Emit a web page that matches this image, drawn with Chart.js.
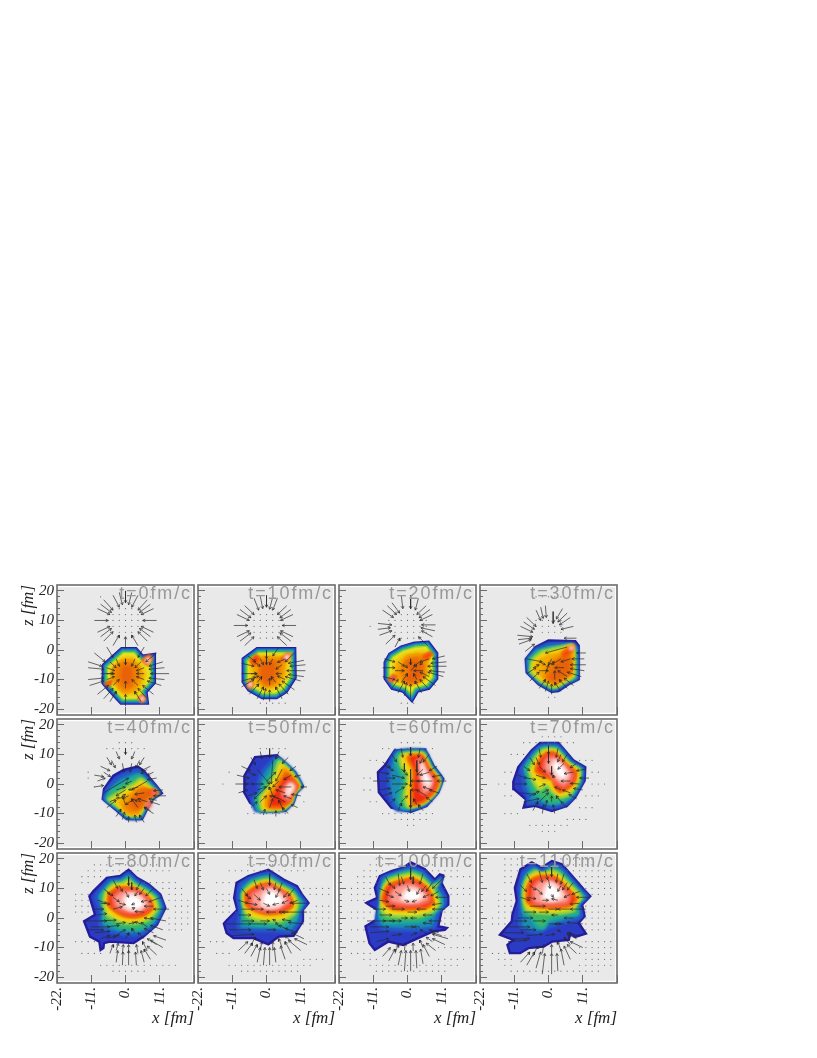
<!DOCTYPE html>
<html>
<head>
<meta charset="utf-8">
<title>Density and velocity maps</title>
<script src="https://cdn.jsdelivr.net/npm/chart.js@4"></script>
<style>
  html, body { margin: 0; padding: 0; background: #fff; }
  #page { position: relative; width: 817px; height: 1058px; overflow: hidden; }
  canvas { position: absolute; }
</style>
</head>
<body>
<div id="page"></div>
<script>
// panel titles
const titles = ['t=0fm/c', 't=10fm/c', 't=20fm/c', 't=30fm/c', 't=40fm/c', 't=50fm/c',
  't=60fm/c', 't=70fm/c', 't=80fm/c', 't=90fm/c', 't=100fm/c', 't=110fm/c'];

// axis ticks
const xTicks = [-22, -11, 0, 11];
const zTicks = [-20, -10, 0, 10, 20];

// velocity grid (fm)
const gridX = [-20, -18, -16, -14, -12, -10, -8, -6, -4, -2, 0, 2, 4, 6, 8, 10, 12, 14, 16, 18, 20];
const gridZ = [-20, -18, -16, -14, -12, -10, -8, -6, -4, -2, 0, 2, 4, 6, 8, 10, 12, 14, 16, 18, 20];

// contour levels, lowest first: [level, x,z, x,z, ...] in fm
const contourT0 = [
  ['rim', -.5,-1.5, 2.5,-1.5, 4.8,-4.2, 7.4,-3.8, 7.4,-10.3, 4.6,-13.5, 4.9,-16, -.6,-16, -4.5,-11.5, -5.3,-10.5, -5.2,-6],
  ['amber', -.5,-2.5, 2.5,-2.5, 5,-5, 6.5,-8, 5.5,-12, 3,-15, -1,-15, -4,-11, -4.5,-6],
  ['orange', -1,-3.5, 2,-3.5, 4.5,-6, 4.8,-9, 3,-13, 0,-14.5, -2,-13, -3.8,-10, -3.8,-6],
  ['deep', 0,-5, 2,-5.5, 2.5,-9, 1.5,-12, -.5,-12, -1.8,-9, -1.2,-6],
  ['red', 5.5,-3.5, 7.5,-1.8, 8.5,-3, 7,-5],
  ['white', 6.5,-3.6, 7.5,-2.8, 7.8,-3.2, 7,-4.3],
  ['red', 4.2,-16.5, 5.4,-15.3, 6.3,-16.5, 5.3,-17.6],
  ['white', 4.9,-16.5, 5.4,-16, 5.8,-16.5, 5.3,-17],
  ['red', -6.5,-11.6, -4.5,-10.2, -5,-12]
];
const contourT10 = [
  ['rim', -2.4,-1.5, 7.2,-1.5, 7.3,-8.8, 5,-12.6, 2.7,-14.1, -.9,-14.1, -4.4,-12, -5.6,-10.2, -5.6,-4],
  ['amber', -2,-2, 6.5,-2, 6.5,-8.5, 4.5,-12, 2,-13.3, -1,-13.3, -4,-11, -5,-8, -5,-4],
  ['orange', -1,-2.5, 5.5,-3, 5,-8, 3,-11.5, 0,-12.5, -3,-10, -3,-5],
  ['deep', -1,-4, 3,-4, 3,-8, 2,-11, -.5,-11.5, -2,-9, -2,-5.5],
  ['red', 4.7,-3.2, 6.8,-1.2, 7.8,-1.6, 6.6,-3.6],
  ['white', 5.9,-2.7, 6.8,-1.8, 7.2,-2, 6.4,-3],
  ['red', -5.2,-3.6, -3.3,-1.8, -2.2,-3, -3.8,-5.2],
  ['red', -6,-12, -5.5,-10.4, -4.2,-11.5, -5.3,-12.9],
  ['white', -5.6,-11.8, -5.3,-11, -4.8,-11.5, -5.2,-12.2]
];
const contourT20 = [
  ['rim', -1.2,-.8, 2.8,.4, 5.8,.6, 7.5,-1.8, 7.5,-9, 5.8,-11.2, 2,-12.2, 1.1,-13.8, -.3,-12.2, -3.8,-11.2, -5.3,-9, -5.3,-4.7, -4.3,-2.8],
  ['amber', -1,-1.5, 3,-.5, 5.5,-.5, 7,-3, 6.5,-9, 5,-10.7, 2,-11.7, -3,-11, -4.5,-8, -4,-4],
  ['orange', 0,-2, 3,-1.5, 6,-2, 5.8,-8, 4,-10.5, 1,-11.5, -2,-10, -3,-7, -1,-4],
  ['deep', -.8,-4, 3,-3, 4.5,-4, 5,-8, 3.5,-10.5, .5,-11.3, -1,-10, .5,-7],
  ['red', 5,-2.3, 7,-.8, 8,-1.4, 6,-3.2],
  ['red', -6,-10, -4.5,-8.5, -3.5,-9.3, -5,-10.7],
  ['pink', -5.4,-10, -4.6,-9.2, -4.1,-9.5, -5,-10.3]
];
const contourT30 = [
  ['dark', -4.3,.9, 0,3.2, 8.6,3, 9.7,1.5, 9.7,-9.9, 6.5,-11.6, 3.2,-13.9, 1,-14.1, -3.2,-11.6, -7,-7.6, -7.3,-3.1],
  ['teal', -6.8,-3.2, -4,.3, 0,2, 8,2, 9.2,.8, 9.2,-9.6, 6.2,-11, 3,-13.2, 1,-13.5, -3,-11, -6.5,-7.4],
  ['green', -6.3,-3.2, -3.5,-.3, 1,1, 7.5,1.8, 8.8,.5, 8.8,-9.4, 6,-10.6, 2.8,-12.8, 1,-13, -2.8,-10.6, -6,-7.3],
  ['yellow', -5,-3, -2,-.5, 4,1, 7.5,1.8, 8.2,0, 8.2,-9, 6,-10.5, 2.5,-12.5, 1,-12.6, -2.8,-10.3, -5.8,-7.2],
  ['amber', -5,-5, -3,-2.5, 0,-1, 3,-.5, 6,1, 7.8,1.5, 7.8,-8.5, 5.5,-10, 2.5,-12, -2.3,-9.8, -4.5,-7.5],
  ['orange', -1,-6, 1,-3, 4,-1.5, 6,.8, 7.5,1, 7.5,-8, 5,-9.8, 2,-11.6, -1.5,-9.5],
  ['deep', 1,-7, 3,-3.5, 5,-2, 7,-3, 7,-8, 4.5,-9.6, 2,-11, -.3,-9.5],
  ['red', 4.5,-1.2, 7.6,1.2, 8.2,1.5, 7.5,-.2, 5.2,-2.5],
  ['white', 6.8,.4, 7.8,1.2, 7.5,.3]
];
const contourT40 = [
  ['dark', -7.3,-5.1, -6.9,-1.7, -3.9,2.8, -.6,4.8, 3.9,5.9, 5.8,4.5, 9.9,-.6, 11.7,-3.1, 8.8,-5.1, 6.9,-8.5, 5.3,-11.9, .4,-11.9, -3.4,-8.5],
  ['teal', -6.8,-5, -6,-2, -3,1.5, 0,3.2, 4,4.5, 5.5,3.5, 9.5,-1, 11,-3, 8.5,-4.8, 6.5,-8.2, 5,-11.5, .6,-11.5, -3,-8.2],
  ['green', -6.2,-5, -4.8,-2.5, -1.5,0, 1.5,1.5, 4.5,3, 9,-1.2, 10.6,-3, 8.3,-4.6, 6.2,-8, 4.8,-11, .8,-11, -2.7,-8],
  ['yellow', -5.5,-5.2, -3,-3.5, 0,-1.5, 3,.2, 5,1.8, 8.5,-1.5, 10.2,-3, 8,-4.4, 6,-7.8, 4.5,-10.6, 1,-10.6, -2.3,-7.8],
  ['amber', -3,-6, -.5,-3.5, 2,-2, 5,.3, 8,-1.8, 10,-3, 7.8,-4.2, 5.7,-7.5, 4.2,-10.2, 1,-10.2, -2,-7.6],
  ['orange', 0,-6, 2,-3.5, 5,-1.3, 7.5,-2, 9.5,-3, 7.5,-4.4, 5.4,-7.3, 4,-9.8, 1.2,-9.8, -.8,-8],
  ['deep', 2.5,-5, 4,-2.5, 6.5,-1.8, 9,-2.6, 9.8,-3.2, 8,-4, 6,-6.5, 5,-8, 3,-8.5, 1.5,-7],
  ['red', 7.5,-3, 9,-1.9, 10.2,-3, 9,-4],
  ['pink', 8.5,-3, 9.2,-2.3, 9.7,-3, 9,-3.6],
  ['pink', 6.5,-7, 8,-5.6, 8,-7.4, 7,-8.2]
];
const contourT50 = [
  ['dark', -7.2,-2.8, -7.1,2.8, -3.7,9.1, 3.3,9.7, 9.2,4, 11.7,-.8, 9.8,-2.8, 8.7,-6.3, 6,-9.1, -1.5,-9.4, -5.3,-6.3],
  ['teal', -3.5,-8.9, -4.5,-5.5, -2.5,-2.5, -2.5,1, -1,4.5, 1.5,7.5, 3.5,9, 8.9,4, 11.3,-.8, 9.5,-2.8, 8.4,-6, 5.8,-8.8],
  ['green', -2.5,-8.9, -3.5,-5, -1.5,-2.5, -1,.5, 1,3, 2.5,7, 3.8,8.5, 8.6,3.8, 11,-.8, 9.3,-2.8, 8.2,-6, 5.6,-8.6],
  ['yellow', -1.5,-8.6, -2,-4.5, 0,-2, 1,0, 2.5,3, 3.5,6.5, 4.2,7.8, 8.4,3.6, 10.7,-.8, 9,-2.8, 8,-6, 5.4,-8.4],
  ['amber', -.8,-8.2, -1,-4.5, 1,-1.7, 2.5,.5, 4,4, 5,6, 8,3.4, 10.4,-.8, 8.8,-2.8, 7.8,-6, 5.2,-8.2],
  ['orange', .2,-7.9, 0,-5, 2,-2, 3.7,.8, 5,3.5, 5.8,5, 7.8,3, 10.2,-.8, 8.7,-2.8, 7.6,-5.8, 5,-8],
  ['red', 1,-7.6, 1.3,-5, 3,-2, 4.8,1, 6.5,3.5, 7.6,2.6, 10,-.8, 8.5,-2.8, 7.4,-5.8, 4.8,-7.6],
  ['pink', 5,-3.8, 5.5,-1, 7.5,1, 9.5,-.8, 8.3,-2.8, 7.3,-5.5, 6,-5],
  ['white', 6.5,-3, 7,-.8, 8,0, 8.7,-1, 8,-2.8, 7,-3.7]
];
const contourT60 = [
  ['dark', -7.3,6.3, -4.1,11.4, 5.6,11.7, 8.3,6.3, 11.5,1.7, 9.9,-2.8, 6.1,-7.4, 1.1,-9.4, -5.2,-8, -9.2,-2.8, -9.5,4],
  ['teal', -3.5,-8.7, -5,-6, -6,-1, -6,3, -5.5,7, -3.5,11, 5.4,11.3, 8,6, 11,1.7, 9.5,-2.8, 5.8,-7, 1.1,-8.7],
  ['green', -1.5,-8.2, -3,-5, -2,-1, -1.5,1, -3,5, -4,8, -3,10.5, 5.2,10.8, 7.7,5.8, 10.7,1.5, 9.2,-2.8, 5.5,-6.7, 1,-8.2],
  ['yellow', 0,-7.8, -1,-4, -.3,0, 0,3, -2,6, -2.5,9, -1.5,10.2, 5,10.4, 7.4,5.6, 10.4,1.3, 9,-2.8, 5.3,-6.5],
  ['amber', .8,-7.4, .2,-3, 1,1, 1,4, -.5,7, -1.5,9, -.5,9.8, 4.8,10, 7.2,5.4, 10.1,1.2, 8.8,-2.7, 5.1,-6.3],
  ['red', 1.8,-7, 1.5,-3, 2,2, 2,5, .5,8, .5,9.5, 4.6,9.6, 7,5.2, 9.9,1, 8.6,-2.6, 4.9,-6.1],
  ['pink', 4.5,-3, 4,1, 3.5,5, 3,8, 4.5,8.5, 6,5, 8.5,1, 7.5,-2, 5.5,-3.5],
  ['white', 5,1, 4.5,5, 4.7,7, 5.5,5, 7.5,1, 6.5,-1]
];
const contourT70 = [
  ['dark', -8,-8, -7.2,-5.3, -11.1,-1.7, -11.3,.8, -9.7,5.7, -5.4,11.4, -2.7,13.9, 3.2,13.9, 8.1,7.9, 11.8,5.7, 11.6,1.1, 8.6,-4.5, 5.9,-7.4, 1.1,-9.1, -4.3,-7.4],
  ['teal', -6.5,-6.3, -6.5,-4, -8,-1, -8,2, -8.5,5.5, -4.8,10.8, -2.3,13, 3,13, 7.5,7.5, 11,5.3, 10.8,1, 8,-4.3, 5.5,-6.8, 1,-8, -3.5,-6.5],
  ['green', -4,-4, -5.5,-1.5, -6.5,2, -7.5,5.5, -4.3,10.3, -2,12.3, 2.7,12.3, 7,7.2, 10.5,5, 10.2,.8, 7.5,-4, 4.8,-6, .5,-6.5],
  ['yellow', -3,-2, -5,1, -6.2,4.5, -3.8,9.6, -1.5,11.6, 2.5,11.6, 6.6,7, 10,4.8, 9.6,.8, 7,-3.4, 4,-4.5, 1.5,-3, -.5,-.5],
  ['amber', -2,1, -5,4, -3.2,9, -1,11, 2.3,11, 6.2,6.8, 9.5,4.5, 9,.8, 6.5,-2.5, 3.5,-3.5, 1.5,-1.5, .2,1],
  ['red', -1,2.5, -4,4.5, -2.7,8.5, -.5,10.5, 2,10.5, 5.8,6.5, 8.8,4, 8.3,.8, 6,-1.5, 3.5,-2.5, 2,-.5, 1.5,1.5],
  ['pink', .5,3, -1.5,5, -1,8.5, 2,9.5, 5.5,6, 7.8,3.5, 7.2,1, 5,-1, 3,0],
  ['white', 2.5,3, 1,6, 2.5,8, 5,5.5, 6,3, 4.5,1.5]
];
const contourT80 = [
  ['dark', -13.3,-1.1, -9.8,1.1, -11.6,7.4, -10.3,9.1, -6,13.6, -1.7,14.2, 1,16.3, 3.7,13.6, 7.4,11.4, 11.2,8, 12.8,3.4, 10.1,-2.3, 5.8,-6.3, 2.6,-8.5, -5,-8, -6.9,-8.5, -7.1,-10.2, -8,-10.8, -8.4,-8, -11.4,-6.3],
  ['teal', -8,-3, -8,2.5, -9.5,7, -8,9.5, -5,12.8, -1.5,13.2, 1,15, 3.3,12.8, 7,10.7, 10.5,7.6, 12,3.4, 9.4,-2, 5,-5.5, -1,-5.5, -5,-4.5],
  ['green', -7,-1, -7,3, -8,7.5, -4.5,12, -1.3,12.5, 1,14, 3,12, 6.5,10, 9.9,7.3, 11.2,3.4, 8.6,-1.7, 4.3,-4, -1,-3.8, -4,-2.5],
  ['yellow', -6,1, -7,4.5, -6.5,8.5, -4,11.3, -1,11.8, 1,12.8, 2.7,11.3, 6,9.4, 9.3,6.8, 10.3,3.2, 7.5,-.5, 3.5,-1.8, -.5,-1.7, -3.5,-.5],
  ['amber', -5.5,3, -6,6, -5.7,8.5, -3.5,10.6, -.7,11, 2.3,10.7, 5.7,8.9, 8.7,6.3, 9.5,3.2, 6.8,.3, 3,-.8, 0,-.6, -3,.7],
  ['red', -5.5,4.5, -5.3,8, -3,9.9, 0,10.3, 3,9.9, 5.5,8.3, 8,6, 8.6,3.2, 6,1, 3,.3, -.5,.8, -3,2.2],
  ['pink', -3.5,4, -4,7, -2,9, 1,9.5, 4.5,8.8, 7,6.5, 8,4, 5,2.2, 2,1.6, -1,2.2],
  ['white', -.5,4, -.5,7, 2,8.2, 4.5,7, 6,5, 5,3.2, 2,2.6]
];
const contourT90 = [
  ['dark', -13.7,-1.9, -12.6,-.6, -9.4,2.8, -10.4,6.8, -9.6,11.9, -5.8,14.2, .6,16.3, 5.5,13, 9.8,10.8, 11.4,8, 13.5,5.1, 11.7,2.8, 11.7,-1.1, 8.7,-6, 3.9,-6.3, .6,-8.9, -4.2,-6.8, -10.6,-6.8, -12.8,-5.1],
  ['teal', -9,-3.5, -8.5,2, -9,7, -8.5,11, -5.5,13.3, .6,15, 5,12.2, 9,10, 10.7,7.6, 12.5,5, 10.9,2.5, 10.7,-1, 8,-4.6, 2,-4.2, -4,-4.2],
  ['green', -7.5,-1, -7.5,3, -8,8, -5,12.4, .6,14, 4.7,11.6, 8.4,9.4, 10,7.2, 11.4,5, 10.3,2.3, 9,-.5, 5,-2.8, 0,-2.6, -4.5,-2.4],
  ['yellow', -6.5,1, -7.5,5, -7.5,8.5, -4.5,11.6, .6,13, 4.3,10.9, 7.8,8.9, 9.4,6.8, 10,4.5, 9,1.5, 5,-1, 0,-1, -4,-.4],
  ['amber', -6.5,3.3, -7,6, -7,8.3, -4,11, .7,12.4, 4,10.4, 7.3,8.5, 8.9,6.3, 9,3.5, 5,.5, 0,.2, -4,1.2],
  ['red', -6.5,4.5, -6.6,8, -3.7,10.4, .8,11.7, 3.7,9.9, 6.8,8, 8.2,5.8, 8.2,4, 5,2, 0,1.5, -3.5,2.6],
  ['pink', -5,4.5, -5,8, -2,10, 1,11, 4,9.5, 6.8,7.5, 7.5,5, 4,2.8, 0,2.2, -3,3],
  ['white', -1.5,4.5, -1,8, 1.5,9.5, 4,8.2, 5.5,6, 4,4, 1,3.5]
];
const contourT100 = [
  ['dark', -13.2,5.1, -9.7,6.8, -10.5,10.2, -8.9,14.2, -5.2,15.9, -1.4,17, 1.1,18.8, 5.6,16.5, 8.8,13, 10.4,14.8, 11.5,14.4, 10.9,11.9, 13.1,7.4, 13.1,4.5, 11,2.8, 9.9,-2.8, 12.6,-3.4, 12,-4, 8.2,-4.5, 3.4,-6.8, -1.4,-9.1, -6.2,-8, -10.5,-10.8, -12.2,-8.5, -13.5,-2.8, -10,-.6, -9.7,2.8, -11.6,4],
  ['teal', -10,-1, -9,5, -9,10, -8,13.5, -5,15, 1,17, 5,15.5, 8.5,12, 11,13.5, 10,11, 12,7, 12,4.5, 10,2, 8.5,-3, 4,-4, -3,-4, -8,-3.5],
  ['green', -9,1, -8.5,6, -8.3,10, -7.2,13, -4.5,14.5, 1,16, 4.6,14.7, 8,11.2, 10.6,12.8, 9,10.5, 10.8,7, 11,4.5, 9,2, 5,-1, -3,-1.5, -7.5,-1.5],
  ['yellow', -8.5,3, -8.3,8, -7.5,11, -6,13, -4,13.7, 1,15, 4.2,13.9, 7.6,10.5, 9.7,11.5, 8.3,10, 9.8,6.7, 10,4.5, 8,2, 3,.5, -3,.5, -7,1],
  ['amber', -8,4.5, -8,8, -6.8,11, -3.5,13, 1,14, 3.8,13.1, 7.2,10, 8.5,7, 9.3,5.5, 8.8,4, 6,2.5, 0,2, -5,2.3],
  ['red', -8,6, -7.3,9, -6.2,11, -3,12.3, 1,13.1, 3.4,12.4, 6.5,9.8, 7.8,7, 8.3,5.3, 6,3.5, 0,3, -5,3.2],
  ['pink', -6,5.5, -5.5,9, -3.5,11, 1,12, 3.5,11, 6.3,8.5, 7.2,6, 4,4.5, -2,4.3],
  ['white', -2,6.5, -1,9, 1,10, 3,9.5, 5,7.5, 3.5,6, .5,5.5]
];
const contourT110 = [
  ['dark', -15.6,-5.7, -11.8,-1.1, -11.6,1.1, -10.2,5.7, -10.8,10.2, -9,16.5, -5.4,18.8, -2.2,17, 1.1,19.3, 4.3,18.2, 8.6,13, 11.3,9.7, 13.4,7.4, 10.8,4.5, 11.6,.6, 9.7,-1.7, 12,-5.3, 8.6,-6.4, 7,-5.3, 6.5,-7.4, 1.1,-8, -1.6,-9.7, -6.5,-10.2, -9.1,-11.9, -12.4,-11.9, -13.2,-9.1, -11.3,-7.4],
  ['teal', -9,-3, -9,2, -9,7, -9,11, -8,15, -5,17.5, -2,16, 1,18, 4,17, 8,12.3, 10.5,9.3, 12.4,7.3, 9.9,4.5, 10.5,.5, 7,-1, 0,-3, -3,-5],
  ['green', -3.5,-3, -6,.5, -8,2, -8.5,7, -8.3,11, -7,14.5, -4.5,16.5, -2,15, 1,17, 3.7,16, 7.5,11.8, 10,9, 11.4,7, 9.3,4.5, 9.5,1.5, 5,.5, 0,-1, -1.5,-3.5],
  ['yellow', -7,2.5, -8,6, -7.8,11, -6.5,14, -4,15.8, -2,14.5, 1,16, 3.4,15, 7,11.2, 9.5,8.6, 10.5,6.7, 8.7,4.5, 8,2.5, 3,1.5, -3,1.7],
  ['amber', -7,4, -7.5,7, -7.2,11, -6,13.5, -3.6,15, 1,15, 3,14.2, 6.5,10.6, 9,8, 9.7,6.4, 8,4, 3,2.8, -3,2.8],
  ['red', -6.8,5.5, -6.7,10.5, -5.3,13, -3,14, 1,14, 2.7,13.3, 6,10, 8.3,7.5, 8.8,6, 7,4.2, 3,3.7, -3,3.7],
  ['pink', -5,5.5, -5,10, -3.5,12.5, 1,13, 3,12, 5.5,9.5, 7,7, 6,5, 1,4.4, -3,4.5],
  ['white', -2,6.5, -1.5,9.5, 0,12, 1.5,11.5, 4,9, 4.5,7, 1.5,5.8]
];

// velocity arrows: x,z,dx,dz in fm
const arrowsT0 = [10,10,-4.5,0, 9,14,-4,-2, 7,17,-3,-3.5, 4,18.5,-2,-4, 0,20,0,-4, -4,18.5,2,-4, -7,17,3,-3.5, -9,14,4,-2, -10,10,4.5,0, -9,6,4,2, -7,3,3,3.2, -4,1.5,2,3.5, 0,.5,0,4, 4,1.5,-2,3.5, 7,3,-3,3.2, 9,6,-4,2,
  8,15.5,-3.5,-2.8, 2,19.5,-1,-4.2, -2,19.5,1,-4.2, -8,15.5,3.5,-2.8, -8,4.5,3.5,2.8, 8,4.5,-3.5,2.8,
  14,-8,-6,0, 12,-4,-4.5,-1.5, 10,-1,-3.5,-3, 6,1,-2,-3.5, -6,1,2,-3.5, -10,-1,3.5,-3, -12,-4,4.5,-1.5, -8,-8,4,0, -11.5,-12,4.5,1.5, -9,-15,3.5,3, -5,-17.5,2,3.5, 0,-19,0,4, 5,-17.5,-2,3.5, 9,-15,-3.5,3, 11.5,-12,-4.5,1.5,
  12.5,-6,-5,-.5, 12.5,-10,-5,.5, -12,-6,5,-.5, -12,-10,5,.5, -7,-16.5,3,3.5, 7,-16.5,-3,3.5,
  5,-4,-2,-2, 0,-3,0,-2, -5,-4,2,-2, -6,-8,2.5,0, 6,-8,-2.5,0, -4,-12,2,2, 4,-12,-2,2, 0,-13,0,2.5, 3,-3,-1,-2.5, -3,-3,1,-2.5, 6,-6,-2.5,-1, -6,-6,2.5,-1, 6,-10,-2.5,1, -6,-10,2.5,1];
const arrowsT10 = [9.5,8.3,-4.5,0, 8.5,12,-4,-2, 6.5,15,-3,-3, 3.5,17.5,-1.5,-4, 0,18.5,0,-4, -4,17.5,1.5,-4, -7,15,3,-3, -9.5,12,4,-2, -10.5,8.3,4.5,0, -9.5,4.5,4,2, -7,1.5,3,3, 6.5,1.5,-3,3, 8.5,4.5,-4,2,
  7.8,13.7,-3.5,-2.8, 2,18,-1,-4.2, -2,18.2,.8,-4.2, -8.5,13.7,3.5,-2.8, -8.5,3,3.5,2.8, 7.8,3,-3.5,2.8,
  12.5,-7,-6,0, 12,-3.5,-5,-1, 11,-10.5,-5,1.5, 9,-13.5,-4,3, 5,-16.5,-2,4, 1,-17.5,0,4, -3,-16.5,2,4, -8,-12.5,4,2.5, -8,-8,5,0, -8,-4.5,4,-1, 9,-1,-3,-3,
  12.5,-5,-5,-.5, 12,-9,-5,.7, 7,-15,-3,3.5, -1,-17,.7,4, -5.5,-15,3,3.5, -8,-10.5,4.5,1.3, -6,-2,2.5,-2, 4,1,-2,-3, 0,0,0,-3,
  5,-5,-2,-1.5, 0,-3,0,-2, -4,-4,2,-1.5, -5,-8,2,0, 5,-8,-2,0, -3,-11,1.5,2, 3,-11,-1.5,2, 2,-3,-1,-2, -2,-3,1,-2, 6,-3,-2.5,-1.2, 6,-10,-2.5,1.2, -5,-10,2.5,1.2, 1,-12,0,2.5];
const arrowsT20 = [9,8.5,-4.5,0, 8,12,-4,-2, 6,15,-3,-3, 3.5,17.5,-1,-4, 1,18.5,0,-4.5, -2,18.5,.5,-4.5, -5,16,2.5,-3.5, -8,13.5,3.5,-2.5, -9.5,9,4.5,-.5, -9,5,4,1.5, -7,2,3,3, -4,1,1.5,3, 8,4.5,-3.5,2, 6.5,1.5,-3,3,
  7.2,13.7,-3.5,-2.8, -6.5,15,3,-3, -9.5,7,4,.5, 8.8,6.5,-4.5,1,
  12.5,-5.5,-6,0, 12,-2,-4,-1, 11.5,-9,-5,1.5, 9,-12,-4,3, 4.5,-14.5,-2,4, 1,-16.5,0,5, -3,-14.5,2,4, -8,-6,4,0, -8,-9,4,-1,
  12.5,-4,-5,-.5, 12,-7.5,-5,.5, 7,-13.5,-3,3.5, -1,-15.5,.7,4.5, -5,-13,2,3, -7.5,-3,3.5,-1,
  4,-4,-2,-1.5, 1,-3,0,-2, -3,-4,2,-1.5, -4,-7,3,0, 5,-7,-3,0, -2,-11,2,3, 3,-10,-1,2, 7,-3,-3,-1, 7,-9,-3,1.5, -1,-5,1,-1, 1,-7,2,2, 5,-4,-1,-1];
const arrowsT30 = [8,8,-4,-1, 7,11,-3.5,-2.5, 4.5,14,-2,-3.5, 1.5,13,0,-4, -1,15,.3,-4, -4,13.5,1.5,-3.5, -7,11,3,-3, -9,8,4,-2, -10,5,5,-.5, -9.5,2,4,1.5, -7.5,-.5,3,2.5, 9,4,-4,0,
  6,12.5,-3,-3, -2.5,14.5,.8,-3.8, -8,9.5,3.5,-2.5, -9.8,3.5,4.5,.5,
  12,-5,-5,0, 12,-1,-3,0, 10.5,-9,-4.5,1.5, 8,-12,-3,2.5, 4,-14,-2,3, 1,-15,0,3.5, -3,-13,2,3, -6,-10.5,3,3, -7,-3,5,-1,
  11.5,-3,-4,0, 11.5,-7,-4.5,.7, 6,-13,-2.5,3, -1,-14,1,3.5, -7,-8,3,2,
  6,1,-7,-2, 4,-3,-3,-2, 1,-3,-1,-2, -3,-4,2,-1, -3,-7,3,0, 5,-6,-3,0, 2,-10,0,3, -1,-8,1,3, 6,-9,-3,2, 7,-3,-3,-1, 0,-5,2,1, -5,-6,2,1];
const arrowsT40 = [0,12,0,-2, -3,11,1,-2.5, 3,11,-1,-2.5, -6,9,1.5,-2.5, 6,9,-1.5,-2.5, -8,6,3,-1.5, 8,6,-3,-1.5, -10,3,3,-.5, 10,2,-3,-.5, -9,1,2.5,1, -1,7,.5,-3, 2,7,-.5,-3,
  -4.5,8,1.2,-2.5, 4.5,8,-1.2,-2.5, -7,4,2.2,-1.5, 7,5,-2,-1.5, -10,-1,3,.5, 9,4,-2,-1,
  13,-4,-4,0, 11,-7,-3,1, 9,-10,-3,2, 6,-13,-1.5,2.5, 1,-13,0,2, -3,-11,1.5,2.5, -6,-8,3,2.5, -7,-3,8,5,
  12,-2,-3,-.3, 10,-5.5,-2.5,.5, 8,-9,-2,1.2, 3.5,-13,-.5,2.5, -1,-12,.7,2.5, -5,-6,3,1.5,
  7,1,-5,-3, 4,-1,-3,-1, 0,-2,-3,-2, -3,-2,3,1, 3,-5,-3,-2, 0,-7,-1,3, 4,-8,-2,3, 7,-6,-3,1, 2,1,-2,-1, -2,-5,2,1.5, 6,-3,-3,-.5, 1,-4,-2,-1, 5,-6,-2,.5];
const arrowsT50 = [-2,11,.5,-2.5, 1,12,0,-3, 4,11,-1,-2.5, 7,9,-2,-2, -5,9,1.5,-2.5, -8,6,3,-1.5, -9.5,3,4,-1, -10,0,4,0, -9,-3,3,1, 9.5,6,-2,-1.5, 11,3,-2,-.5, 13,-1,-2,0, 11,-4,-3,.5, 10,-8,-2,1,
  7,-10,-2,2, 3,-11,0,2, -1,-10.5,.5,2, -5,-8,2,2, -3,5,4,-5, 5,5,-2,-4, 0,1,3,3, 1,0,-5,-5, 2,8,-.5,-8, 4,-5,-3,1, 8,-1,-4,0, 6,-6,-4,2, -4,0,3,0,
  -6,4,2.5,-1, -7,0,3,0, -6,-4,3,1, -2,-6,2,2, 1,-8,1,3, 5,-8,-1,2.5, 8,-5,-2.5,1, 8,3,-2.5,-1.5, 4,1,-2,-2, 6,-3,-3,1, 2,-4,-1,3, -3,-2,3,1];
const arrowsT60 = [1,12.5,0,-3, -2,12,.5,-3, 4,12,-.5,-3, 7,10,-2,-2.5, -5,10,1.5,-2.5, -8,7.5,2.5,-2, -9.5,4,3.5,-.5, -11,1,5,0, -9.5,-2,4,.5, 9.5,6,-2.5,-1.5, 11,3,-3,-.5, 12.5,1,-3,0, 10,-3,-3,1, 8,-6,-2,1.5, 5,-9,-1.5,2,
  1,-10,0,3, -3,-9,1,2.5, -6,-7,2,2, -1,7,0,-3, 3,8,0,-4, -5,3,4,-1, -5,0,5,0, -4,-3,3,2, 1,5,0,-6, 1,-2,0,-6, 5,1,-4,0, 8,1,-5,0, 6,-4,-3,2,
  -7,6,2.5,-1.5, -8,-4,3,1, -7,2,3,0, -2,-6,2,2, 3,-7,-1,2, 7,4,-3,-1, 5,5,-2,-2, 3,-2,-2,0, 8,-2,-3,1, -2,5,2,-2, 5,9,-1,-2];
const arrowsT70 = [0,13,0,-3, -3,12,.5,-3, 3,12,-.5,-3, 6,10,-1.5,-2.5, -6,9,1.5,-2.5, -8,6,2,-1.5, -10,3,3,-1, 9,7,-2,-1.5, 12,5,-3,-.5, 13,2,-3,0, 11,-2,-3,.5, 9,-5,-2.5,1.5, 6,-8,-2,2, 2,-10,-.5,3,
  -2,-10,.5,3, -5,-9,1.5,3, -11,0,4,0, -9,-3,5,-.5, -8,-6,5,1, -3,-6,3,3, 1,-6,0,2, -3,-1,2,1, 1,6,0,-3, 5,7,-2,-2, -3,6,2,-2, 7,1,-3,0, 4,-2,-2,1,
  -7,2,3,-.5, -4,3,3,-1, 0,10,0,-3, -4,9,1,-2.5, 4,10,-1,-2.5, 8,4,-3,-.5, 10,0,-3,.2, 7,-3,-2.5,1, 4,-6,-1.5,2, -1,-8,.5,2.5, -6,-4,3,1.5, -2,-3,2,1, 2,2,-.5,1];
const arrowsT80 = [-5,-12,1,3, -3,-15,.5,4, -1,-16,.2,4.5, 1,-16,0,5, 3.5,-16,-.3,4.5, 6,-15,-1,4, 8,-14,-2,3.5, 10,-12.5,-3,3, 12,-10,-4,2.5, 13,-7.5,-4,1.5,
  -13,-1,7,0, -11,-3,6,0, -10,-5,5,.5, -9,1,3,.5, 14,3,-5,0, 13,-1,-5,1, 12,-4,-4,1.5, 1,14,0,-3, -4,13,1.5,-3, 5,12.5,-1.5,-3, 9,10,-2.5,-2.5, 11.5,7,-4,-1.5, -7,10,2,-2, -9,6,3,-1,
  -4,7,2,-1.5, 0,9,1,-2, 4,9,-1,-1.5, 7,6,-2,-.5, -4,3,3,.8, 2,3,1,.5, 6,2,-3,.2, -6,-3,4,.5, -2,-5,2,1, 3,-5,-1,1.5, 7,-3,-2,1.5,
  -10,3,3,0, -8,-7,3,1, -6,-7,3,1, -4,-7,2,1.5, 0,-7,1,2, 6,-7,-2,2, 9,-5,-3,1.5, -12,-4,5,0, -8,-1,5,.3, -3,-2,3,.5, 1,-2,2,.5, 5,-2,-2,.7, 9,-.5,-3,.5, -8,5,3,-.3, -2,5,2,-.5, 3,5,-1,-.5, 9,4,-3,0, -6,9,2,-1.5, -2,11,1,-2, 2,12,0,-2.5, 6,10,-1.5,-2, -1,-12,.3,3, 1,-12,0,3, 4,-12,-.5,3, 7,-11,-1.5,3, 10,-9,-3,2, -3,-11,.7,2.5];
const arrowsT90 = [-9,-11,3,3, -5,-13,2,4, -3,-15,1,5, -1,-16,.5,6, 1,-16,0,6, 3,-15,-.5,5, 6,-14,-1.5,4.5, 8,-12,-2,4, 11,-11,-4,3.5, 13,-9,-4,2,
  -13,-2,8,0, -12,-4,7,0, -11,-6,7,.5, -9,1,4,0, 13,5,-5,0, 13,2,-8,0, 12,-2,-5,.5, 10,-5,-4,1.5, 1,15,0,-4, -4,13,1,-3, 5,12,-1,-3, 9,10,-2,-2.5, -8,10,2,-2.5, -9,6,3,-1,
  -4,8,2,-2, 0,10,1,-2, 4,9,-1,-2, 7,6,-2,-1, -4,3,3,0, 3,2,-3,0, 7,2,-3,0, -5,-2,5,0, 0,-4,3,0, 4,-3,-1,1.5, 7,-4,-3,1.5,
  -7,-12,2.5,3.5, -5,-9,1.5,2.5, -2,-11,.5,3, 2,-11,0,3, 5,-10,-1,3, 8,-8,-2,2, 12,-7,-4,2, -8,3,4,0, -8,-1,4,0, -2,-1,3,0, 3,-1,-1,.5, 8,-1,-3,.5, -7,8,2,-1.5, -2,12,1,-2.5, 3,12,-.5,-2.5, 7,9,-1.5,-2, 10,6,-2.5,-1, -1,5,2,-1, 4,5,-2,-.5, -6,5,3,-.5];
const arrowsT100 = [-8,-13,2.5,3, -6,-14.5,2,4, -3,-16,1,5, -1,-18,.5,7, 1,-18,0,7, 3,-17,-.3,6, 5,-15.5,-.8,5, 7,-13,-2,4, 9,-11,-3,2.5, 12,-9,-4,2, 13,-7,-5,1.5,
  -13,-1,6,0, -12,-3,6,0, -12,-5,6,.5, -11,3,4,0, 13,7,-4,0, 12,3,-4,0, 11,-1,-4,0, 10,-5,-3,1, 1,17,0,-4, -3,15,.5,-4, -7,14,1.5,-3, 5,15,-1,-3.5, 8,12,-2,-3, 12,14,-4,-4, -9,10,3,-1.5, -9,6,3,-.5,
  -4,9,2,-1.5, 0,11,.5,-2, 4,10,-1,-2, 7,8,-2,-1, -5,3,4,0, 0,2,3,0, 6,3,-3,0, -6,-1,4,0, -1,-3,3,0, 4,-3,-2,0, -5,-6,3,.5, 1,-6,2,1, 6,-5,-2,1,
  -4,-12,1,3, -1,-11,.3,2.5, 2,-11,-.2,2.5, 5,-10,-1,2.5, 8,-8,-2,1.5, 11,-6,-3,1, -10,-8,4,1, -8,-1,4,0, -9,1,4,0, -7,4,3,0, -7,8,2.5,-1, -6,12,2,-2, -2,14,.8,-2.5, 2,14,-.2,-2.5, 6,11,-1.5,-2, 10,9,-2.5,-1.5, 11,5,-3,-.5, 8,1,-3,0, 3,0,-2,0, -2,0,2,0, -1,6,1.5,-.5, 3,6,-1.5,-.5, 8,-2,-3,.3];
const arrowsT110 = [-9,-15,3,3.5, -7,-16,2.5,4.5, -4,-17,1.5,5.5, -2,-19,.8,7, 1,-19,0,7, 3,-18,-.3,6, 5,-16,-1,5.5, 7,-14,-2,4.5, 9,-12,-3,3, 11,-10,-4,2,
  -15,-5,7,0, -13,-3,7,0, -13,-8,6,.5, -10,0,5,0, 13,7,-4,0, 12,3,-5,0, 11,-2,-5,.5, 10,-6,-4,1, 1,18,0,-4, -3,16,1,-4, -7,15,1.5,-3, 5,15,-1,-3.5, 8,12,-2,-2.5, -9,11,2,-2, -9,7,3,-1,
  -4,10,2,-2, 0,13,.5,-3, 4,11,-1,-2, 7,8,-2,-1, -6,4,5,0, 0,3,3,0, 7,3,-4,0, -5,-1,4,0, 0,-2,4,0, 5,-2,-3,0, -7,-6,5,.5, -1,-6,3,.5, 4,-5,-1,1,
  -5,-13,1.5,3.5, -2,-12,.5,3, 1,-12,0,3, 4,-11,-1,3, 7,-9,-2,2.5, 9,-7,-3,1.5, -11,-7,5,0, -9,-4,5,0, -11,-1,4,0, -8,2,4,0, -7,7,3,-.5, -6,11,2,-1.5, -1,16,.7,-3, 3,15,-.5,-3, 6,12,-1.5,-2.5, 10,9,-2.5,-1, 10,5,-3,-.3, 8,0,-3,0, 3,1,-2,0, -3,2,3,0, -2,6,2,0, 3,6,-2,.5, 1,8,.5,-1];

// small dots: rows of z, xFrom, xTo
const dotsT0 = [[14,-2,2], [12,-4,4], [10,-4,4], [8,-4,4], [6,-2,2], [18,-8,-8], [18,8,8]];
const dotsT10 = [[12,-4,4], [10,-4,4], [8,-4,4], [6,-4,4], [4,-2,2], [-18,-2,6]];
const dotsT20 = [[12,-4,4], [10,-6,6], [8,-6,6], [6,-4,6], [4,-2,4], [8,-12,-12], [-18,-2,2]];
const dotsT30 = [[18,-4,4], [10,-4,4], [8,-4,4], [6,-2,4], [-16,0,2]];
const dotsT40 = [[4,-12,-12], [2,-12,-12], [-1,-10,-10], [14,-2,2], [12,-6,6]];
const dotsT50 = [[12,-2,6], [4,-12,-12], [0,-14,-14], [-6,12,12], [-10,-6,6]];
const dotsT60 = [[14,-2,4], [12,-8,8], [8,-12,-10], [2,-14,-12], [-2,-14,-12], [-6,-12,-10], [-10,-8,8], [-12,-4,6], [-14,0,2]];
const dotsT70 = [[16,-2,4], [14,-8,8], [10,-12,-8], [8,10,14], [4,-14,-12], [4,14,16], [0,-16,-14], [0,14,18], [-4,-14,-12], [-4,12,16], [-8,10,14], [-10,-14,-10], [-12,6,12], [-14,-6,6], [-16,-2,2]];
const dotsT80 = [[18,-10,10], [16,-12,14], [14,-14,-8], [12,-14,-12], [12,6,16], [10,12,18], [8,-16,-12], [8,14,18], [6,-16,-12], [6,14,20], [4,-16,-12], [4,16,20], [2,-16,-12], [2,16,20], [0,14,20], [-2,14,20], [-4,14,18], [-8,-16,-10], [-12,-14,-8], [-16,-8,16], [-18,-4,6]];
const dotsT90 = [[18,-6,8], [16,-12,12], [12,-16,-10], [10,12,20], [8,-16,-12], [8,14,20], [6,-16,-12], [4,-16,-12], [4,16,20], [2,-16,-10], [2,12,20], [0,14,20], [-2,14,20], [-4,14,20], [-8,-18,-14], [-8,14,18], [-12,-16,-12], [-14,12,18], [-16,-12,14], [-18,-8,10]];
const dotsT100 = [[20,-10,-4], [18,-12,8], [16,-14,-8], [16,6,16], [14,-16,-10], [14,12,20], [12,-16,-10], [10,-18,-12], [10,12,20], [8,-18,-12], [8,14,20], [6,-18,-14], [4,14,20], [2,-18,-12], [2,12,20], [0,-18,-14], [0,12,20], [-2,12,20], [-4,-18,-14], [-6,12,20], [-8,-18,-14], [-10,10,20], [-12,-18,-12], [-14,-14,-10], [-14,10,18], [-16,-12,16], [-18,-10,12]];
const dotsT110 = [[20,-14,-10], [20,4,14], [18,-14,-10], [18,6,18], [16,-14,-10], [16,6,20], [14,-14,-10], [14,10,20], [12,-14,-12], [12,10,20], [10,12,20], [8,-16,-12], [8,14,20], [6,-16,-12], [4,-16,-12], [4,12,20], [2,-16,-12], [2,12,20], [0,-18,-14], [0,12,20], [-2,-18,-14], [-2,12,20], [-4,12,20], [-8,12,20], [-10,10,20], [-12,-18,-14], [-12,10,20], [-14,-16,-12], [-14,12,20], [-16,-14,-12], [-16,10,20], [-18,-12,16]];

const contours = [contourT0, contourT10, contourT20, contourT30, contourT40, contourT50, contourT60, contourT70, contourT80, contourT90, contourT100, contourT110];
const arrows = [arrowsT0, arrowsT10, arrowsT20, arrowsT30, arrowsT40, arrowsT50, arrowsT60, arrowsT70, arrowsT80, arrowsT90, arrowsT100, arrowsT110];
const dots = [dotsT0, dotsT10, dotsT20, dotsT30, dotsT40, dotsT50, dotsT60, dotsT70, dotsT80, dotsT90, dotsT100, dotsT110];

// colours of the levels, with a softer edge colour between neighbours
const levelFill = { dark: '#2b3cc4', teal: '#1a8cb4', green: '#38b868', yellow: '#e6e41c', amber: '#f4ac00', orange: '#f08000', deep: '#e8620a', red: '#f02c10', pink: '#fb9a90', white: '#ffffff', rim: '#e6e41c' };
const levelEdge = { dark: '#241c9c', teal: '#2258c8', green: '#1eac98', yellow: '#9cd03c', amber: '#f0cc10', orange: '#f29a00', deep: '#ec7206', red: '#f26008', pink: '#f66450', white: '#fdcfca', rim: '#e6e41c' };
// softening per level, px
const levelBlur = { rim: .5, dark: .5, teal: .9, green: 1, yellow: 1, amber: 1, orange: 1, deep: 1, red: 1.2, pink: 1.8, white: 1.8, dots: .3, arrows: .3 };
// rings drawn round a 'rim' contour, widest first
const rimColors = ['#241c9c', '#2050c4', '#1a8cb4', '#38b868', '#9cd03c'];
const rimWidths = [15, 13, 10.5, 8, 5];

// page layout in pixels
const frameLeft = [56.5, 197.5, 338.5, 479.5];
const frameTop = [584.5, 718.5, 852.5];
const frameW = 137.5, frameH = 130;
const marginL = 56, marginR = 4, marginT = 4, marginB = 60;
const serif = '"Liberation Serif", "Times New Roman", serif';

const panelPlugin = {
  id: 'panel',
  afterDatasetDraw(chart, args) {
    // filler paints before this plugin's before-hook, so set the blur for the next set here
    const next = chart.data.datasets[args.index + 1];
    chart.ctx.filter = next ? 'blur(' + (levelBlur[next.label] || 0) + 'px)' : 'none';
  },
  afterDatasetsDraw(chart, args, opts) {
    const { ctx, chartArea: a } = chart;
    ctx.filter = 'none';
    ctx.save();
    ctx.letterSpacing = '1.9px';
    ctx.font = '18px "Liberation Sans", Arial, sans-serif';
    ctx.fillStyle = '#989898';
    ctx.textAlign = 'right';
    ctx.textBaseline = 'middle';
    ctx.fillText(opts.title, a.right - 2, a.top + 9);
    ctx.restore();
  },
  afterDraw(chart) {
    const { ctx, chartArea: a } = chart;
    ctx.save();
    ctx.strokeStyle = '#6c6c6c';
    ctx.lineWidth = 1.6;
    ctx.strokeRect(a.left, a.top, a.right - a.left, a.bottom - a.top);
    ctx.restore();
  }
};

// closed outline: the first two points come again so the stroke joins up
function toPoints(flat) {
  const pts = [];
  for (let i = 0; i < flat.length; i += 2) pts.push({ x: flat[i], y: flat[i + 1] });
  pts.push(pts[0], pts[1]);
  return pts;
}

function polygon(label, pts, fillColor, edgeColor, width, tension) {
  return { label, data: pts, fill: fillColor ? 'shape' : false, backgroundColor: fillColor || 'transparent',
    borderColor: edgeColor, borderWidth: width, pointRadius: 0, tension, borderJoinStyle: 'miter' };
}

function arrowPoints(list) {
  const pts = [];
  const barb = .85;
  for (let i = 0; i < list.length; i += 4) {
    const [x, z, dx, dz] = list.slice(i, i + 4);
    const len = Math.hypot(dx, dz);
    const ux = dx / len, uz = dz / len;
    const tx = x + dx, tz = z + dz;
    pts.push({ x, y: z }, { x: tx, y: tz });
    pts.push({ x: tx - barb * (ux + .55 * uz), y: tz - barb * (uz - .55 * ux) });
    pts.push({ x: tx, y: null });
    pts.push({ x: tx, y: tz }, { x: tx - barb * (ux - .55 * uz), y: tz - barb * (uz + .55 * ux) });
    pts.push({ x: tx, y: null });
  }
  return pts;
}

function dotPoints(rows) {
  const pts = [];
  rows.forEach(([z, from, to]) => {
    gridX.filter(x => x >= from && x <= to).forEach(x => pts.push({ x, y: z }));
  });
  return pts;
}

function buildDatasets(i) {
  const sets = [];
  // grey plot background
  sets.push(polygon('background', toPoints([-22, -21.2, 21.4, -21.2, 21.4, 21.2, -22, 21.2]), '#e9e9e9', '#e9e9e9', 0, 0));
  contours[i].forEach(entry => {
    const level = entry[0];
    const pts = toPoints(entry.slice(1));
    if (level === 'rim') {
      rimWidths.forEach((w, k) => sets.push(polygon('rim', pts, null, rimColors[k], w, 0)));
    }
    const smooth = ['dark', 'rim'].includes(level) ? 0 : (i < 4 ? .1 : .2);
    sets.push(polygon(level, pts, levelFill[level], levelEdge[level], level === 'teal' ? 3.5 : 2.4, smooth));
  });
  sets.push({ label: 'dots', data: dotPoints(dots[i]), showLine: false, pointRadius: .6, borderWidth: 0, backgroundColor: '#666' });
  sets.push({ label: 'arrows', data: arrowPoints(arrows[i]), fill: false, borderColor: '#2a2a2a', borderWidth: .7, pointRadius: 0, tension: 0, spanGaps: false });
  // chart.js paints the lowest order last, so the list above runs bottom to top
  sets.forEach((s, k) => { s.order = sets.length - k; });
  return sets;
}

function noPadding(s) {
  s.paddingLeft = s.paddingRight = s.paddingTop = s.paddingBottom = 0;
}

titles.forEach((title, i) => {
  const col = i % 4, row = Math.floor(i / 4);
  const canvas = document.createElement('canvas');
  const w = marginL + frameW + marginR, h = marginT + frameH + marginB;
  canvas.width = w;
  canvas.height = h;
  canvas.style.left = (frameLeft[col] - marginL) + 'px';
  canvas.style.top = (frameTop[row] - marginT) + 'px';
  canvas.style.width = w + 'px';
  canvas.style.height = h + 'px';
  document.getElementById('page').appendChild(canvas);

  new Chart(canvas.getContext('2d'), {
    type: 'line',
    data: { datasets: buildDatasets(i) },
    plugins: [panelPlugin],
    options: {
      responsive: false,
      animation: false,
      events: [],
      layout: { autoPadding: false, padding: { left: 0, right: marginR, top: marginT, bottom: 0 } },
      plugins: {
        legend: { display: false },
        tooltip: { enabled: false },
        title: { display: false },
        panel: { title }
      },
      scales: {
        x: {
          type: 'linear', min: -22, max: 22,
          afterFit: s => { s.height = marginB; noPadding(s); },
          afterBuildTicks: s => { s.ticks = xTicks.concat([22]).map(value => ({ value })); },
          border: { display: false },
          grid: { z: 1, drawOnChartArea: false, tickLength: -8, color: '#6c6c6c', lineWidth: 1 },
          ticks: {
            display: row === 2, autoSkip: false, minRotation: 90, maxRotation: 90, padding: 12, color: '#222',
            font: { family: serif, style: 'italic', size: 15 },
            callback: v => (xTicks.includes(v) ? v + '.' : '')
          },
          title: {
            display: row === 2, text: 'x [fm]', align: 'end', color: '#222',
            font: { family: serif, style: 'italic', size: 17 }, padding: { top: 0, bottom: 14 }
          }
        },
        y: {
          type: 'linear', min: -22, max: 22, position: 'left', weight: 1,
          afterFit: s => { s.width = marginL; noPadding(s); },
          afterBuildTicks: s => { s.ticks = zTicks.map(value => ({ value })); },
          border: { display: false },
          grid: { z: 1, drawOnChartArea: false, tickLength: -7, color: '#6c6c6c', lineWidth: 1 },
          ticks: {
            display: col === 0, autoSkip: false, padding: 10, color: '#222',
            font: { family: serif, style: 'italic', size: 15 }
          },
          title: {
            display: col === 0, text: 'z [fm]', align: 'end', color: '#222',
            font: { family: serif, style: 'italic', size: 17 }, padding: { top: 17, bottom: 0 }
          }
        },
        zMinor: {
          type: 'linear', min: -22, max: 22, position: 'left', weight: 0,
          afterFit: s => { s.width = 0; noPadding(s); },
          afterBuildTicks: s => { s.ticks = gridZ.map(value => ({ value })); },
          border: { display: false },
          grid: { z: 1, drawOnChartArea: false, tickLength: -3, color: '#6c6c6c', lineWidth: 1 },
          ticks: { display: false }
        }
      }
    }
  });
});
</script>
</body>
</html>
